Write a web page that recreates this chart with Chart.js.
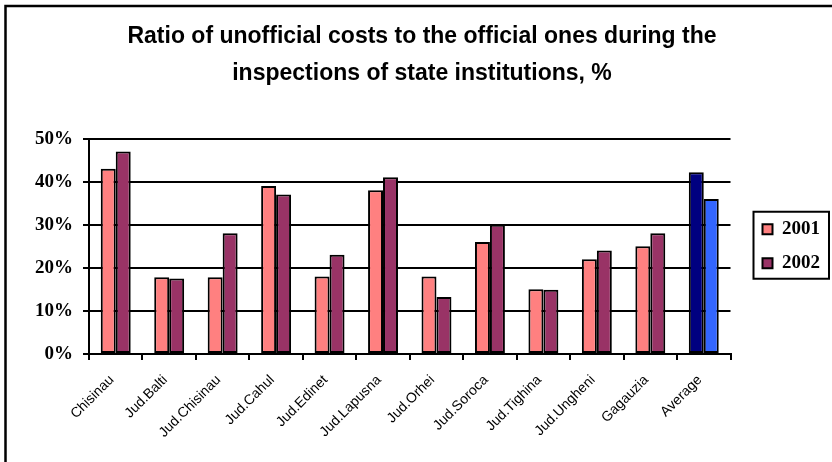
<!DOCTYPE html>
<html lang="en">
<head>
    <meta charset="UTF-8">
    <title>Unofficial costs ratio</title>
    <style>
        html, body { margin: 0; padding: 0; background: #fff; }
        #wrap { width: 832px; height: 462px; }
    </style>
</head>
<body>
    <div id="wrap"><canvas id="chart" width="832" height="462"></canvas></div>

    <script src="https://cdn.jsdelivr.net/npm/chart.js"></script>
    <script>
        const regions = ['Chisinau', 'Jud.Balti', 'Jud.Chisinau', 'Jud.Cahul', 'Jud.Edinet', 'Jud.Lapusna',
                         'Jud.Orhei', 'Jud.Soroca', 'Jud.Tighina', 'Jud.Ungheni', 'Gagauzia', 'Average'];
        const values2001 = [43, 17.8, 17.8, 39, 18, 38, 18, 26, 15, 22, 25, 42.2];
        const values2002 = [47, 17.5, 28, 37, 23, 41, 13.2, 30, 14.9, 24, 28, 36];
        const yTicks = [0, 10, 20, 30, 40, 50];

        const color2001 = '#FF8080', color2002 = '#993366';
        const avg2001 = '#000080', avg2002 = '#3366FF';
        const avgIndex = regions.indexOf('Average');

        // white page, plus the left/top frame lines
        const framePlugin = {
            id: 'frame',
            beforeDraw(chart) {
                const ctx = chart.ctx;
                ctx.save();
                ctx.fillStyle = '#fff';
                ctx.fillRect(0, 0, chart.width, chart.height);
                ctx.strokeStyle = '#000';
                ctx.lineWidth = 2.5;
                ctx.beginPath();
                ctx.moveTo(5.5, chart.height);
                ctx.lineTo(5.5, 6);
                ctx.lineTo(chart.width, 6);
                ctx.stroke();
                ctx.restore();
            },
            afterDraw(chart) {
                // box around the legend items
                const hb = chart.legend.legendHitBoxes;
                if (!hb || !hb.length) return;
                const first = hb[0], last = hb[hb.length - 1];
                const ctx = chart.ctx;
                ctx.save();
                ctx.strokeStyle = '#000';
                ctx.lineWidth = 2;
                const x0 = first.left - 9, y0 = first.top - 8;
                const x1 = chart.width - 3, y1 = last.top + last.height + 6;
                ctx.strokeRect(x0, y0, x1 - x0, y1 - y0);
                ctx.restore();
            }
        };

        new Chart(document.getElementById('chart'), {
            type: 'bar',
            data: {
                labels: regions,
                datasets: [{
                    label: '2001',
                    data: values2001,
                    backgroundColor: c => c.dataIndex === avgIndex ? avg2001 : color2001,
                    borderColor: '#000',
                    borderWidth: 2,
                    borderSkipped: false
                }, {
                    label: '2002',
                    data: values2002,
                    backgroundColor: c => c.dataIndex === avgIndex ? avg2002 : color2002,
                    borderColor: '#000',
                    borderWidth: 2,
                    borderSkipped: false
                }]
            },
            options: {
                responsive: false,
                animation: false,
                devicePixelRatio: 1,
                categoryPercentage: 0.56,
                barPercentage: 1.0,
                layout: { padding: { left: 14, right: 2, top: 0, bottom: 9 } },
                plugins: {
                    title: {
                        display: true,
                        text: ['Ratio of unofficial costs to the official ones during the',
                               'inspections of state institutions, %'],
                        color: '#000',
                        font: { family: 'Liberation Sans', size: 23, weight: 'bold', lineHeight: 1.6 },
                        padding: { top: 18, bottom: 47 }
                    },
                    legend: {
                        position: 'right',
                        fullSize: false,
                        labels: {
                            color: '#000',
                            font: { family: 'Liberation Serif', size: 19, weight: 'bold' },
                            boxWidth: 10,
                            boxHeight: 10,
                            padding: 15,
                            generateLabels: () => [
                                { text: '2001', fillStyle: color2001, strokeStyle: '#000', lineWidth: 2, datasetIndex: 0 },
                                { text: '2002', fillStyle: color2002, strokeStyle: '#000', lineWidth: 2, datasetIndex: 1 }
                            ]
                        }
                    },
                    tooltip: { enabled: false }
                },
                scales: {
                    x: {
                        grid: { offset: true, drawOnChartArea: false, drawTicks: true, tickLength: 6, color: '#000', lineWidth: 2 },
                        border: { color: '#000', width: 2 },
                        ticks: {
                            autoSkip: false,
                            maxRotation: 45,
                            minRotation: 45,
                            padding: 12,
                            labelOffset: -4,
                            color: '#000',
                            font: { family: 'Liberation Sans', size: 14 }
                        }
                    },
                    y: {
                        min: yTicks[0],
                        max: yTicks[yTicks.length - 1],
                        afterBuildTicks: s => { s.ticks = yTicks.map(v => ({ value: v })); },
                        afterFit: s => { s.width = 75; },
                        grid: { color: '#000', lineWidth: 2, tickLength: 6 },
                        border: { color: '#000', width: 2 },
                        ticks: {
                            padding: 10,
                            color: '#000',
                            font: { family: 'Liberation Serif', size: 19, weight: 'bold' },
                            callback: v => v + '%'
                        }
                    },
                    // empty right-hand strip that keeps the legend clear of the plot
                    gap: {
                        position: 'right',
                        display: true,
                        grid: { display: false },
                        border: { display: false },
                        ticks: { display: false },
                        afterFit: s => { s.width = 17; }
                    }
                }
            },
            plugins: [framePlugin]
        });
    </script>
</body>
</html>
